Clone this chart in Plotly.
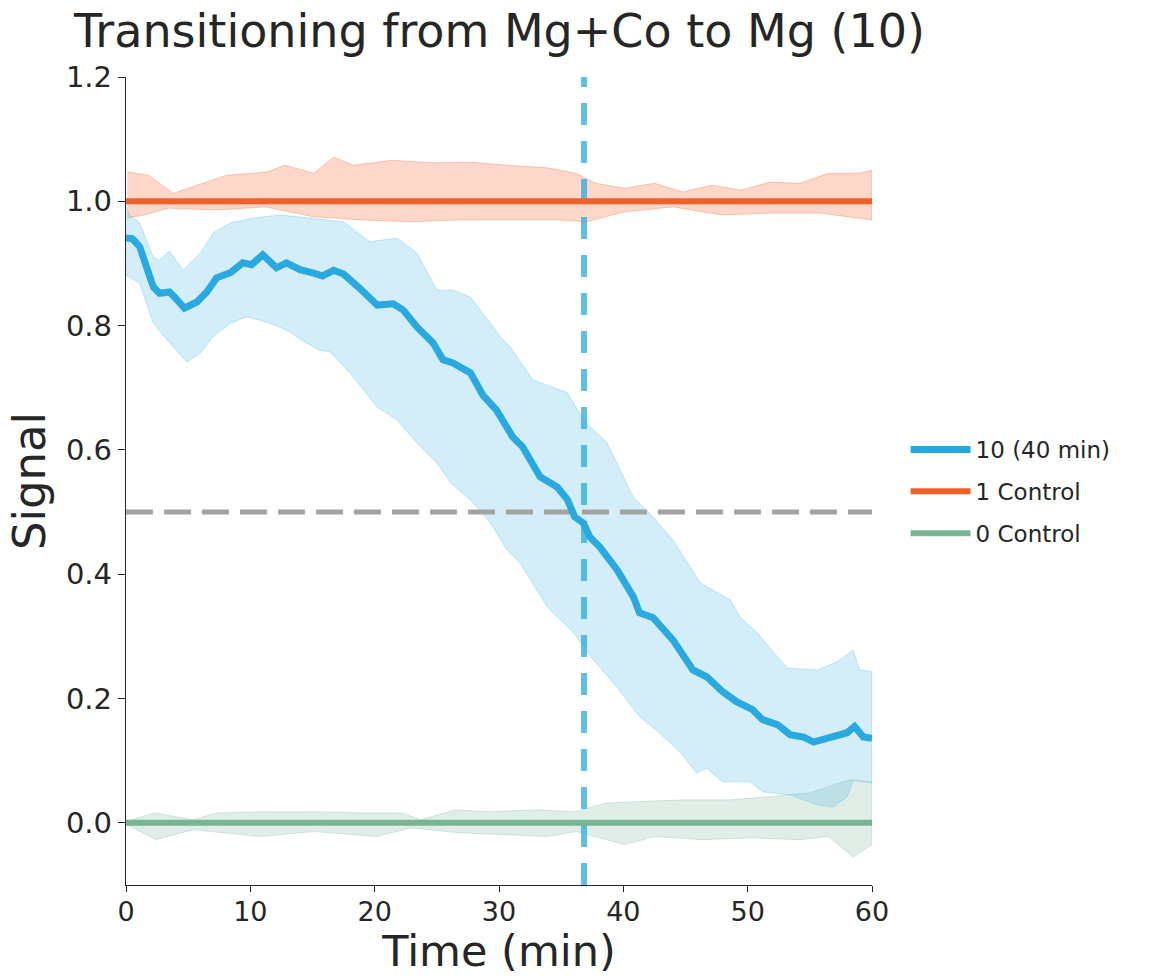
import plotly.graph_objects as go

# ---- data ----
mean_t = [0.0, 0.5, 1.1, 1.7, 2.2, 2.7, 3.5, 3.9, 4.7, 5.7, 6.5, 7.3, 8.4, 9.4, 10.1, 11.0, 12.1,
          12.9, 14.0, 15.0, 15.8, 16.7, 17.5, 18.8, 20.2, 21.5, 22.3, 23.4, 24.7, 25.5, 26.3, 27.7,
          28.7, 29.8, 30.7, 31.1, 31.9, 33.3, 34.7, 35.5, 36.1, 36.8, 37.3, 38.1, 39.5, 40.8, 41.3,
          42.4, 44.0, 45.6, 46.7, 48.0, 49.1, 50.4, 51.2, 52.4, 53.4, 54.5, 55.3, 56.6, 58.0, 58.6,
          59.3, 60.0]
mean_v = [0.941, 0.940, 0.927, 0.895, 0.862, 0.852, 0.854, 0.846, 0.828, 0.838, 0.854, 0.877, 0.885,
          0.901, 0.898, 0.914, 0.893, 0.901, 0.890, 0.885, 0.880, 0.889, 0.883, 0.860, 0.833, 0.835,
          0.825, 0.798, 0.772, 0.745, 0.740, 0.724, 0.688, 0.664, 0.632, 0.621, 0.605, 0.557, 0.540,
          0.520, 0.492, 0.482, 0.460, 0.444, 0.407, 0.364, 0.338, 0.330, 0.294, 0.246, 0.235, 0.211,
          0.195, 0.182, 0.166, 0.158, 0.142, 0.138, 0.130, 0.137, 0.145, 0.155, 0.138, 0.136]

up_t = [0.0, 0.3, 1.1, 2.2, 2.7, 3.5, 4.6, 6.0, 7.0, 8.4, 10.2, 12.4, 14.8, 17.5, 19.6, 21.8, 23.4,
        25.0, 26.3, 27.7, 29.3, 30.1, 30.9, 32.7, 35.5, 36.8, 38.7, 40.8, 42.4, 44.0, 46.2, 48.6,
        49.4, 50.8, 52.4, 53.2, 55.6, 57.2, 58.5, 59.0, 60.0]
up_v = [0.990, 0.978, 0.965, 0.910, 0.905, 0.920, 0.889, 0.917, 0.949, 0.965, 0.973, 0.978, 0.973,
        0.967, 0.935, 0.941, 0.917, 0.857, 0.857, 0.846, 0.804, 0.782, 0.766, 0.713, 0.692, 0.648,
        0.611, 0.524, 0.492, 0.455, 0.386, 0.359, 0.331, 0.305, 0.267, 0.249, 0.246, 0.259, 0.278,
        0.246, 0.243]

lo_t = [0.0, 1.1, 2.2, 3.3, 4.9, 6.0, 7.0, 8.4, 9.7, 11.3, 12.9, 14.5, 15.6, 16.4, 18.0, 20.2, 21.8,
        23.4, 25.0, 26.1, 27.7, 29.3, 30.6, 31.7, 33.9, 36.0, 37.6, 39.2, 41.3, 42.9, 44.6, 45.9,
        46.7, 48.0, 50.2, 51.2, 53.4, 55.6, 56.9, 58.0, 58.5, 60.0]
lo_v = [0.881, 0.868, 0.804, 0.777, 0.741, 0.756, 0.782, 0.804, 0.814, 0.806, 0.793, 0.772, 0.760,
        0.758, 0.724, 0.669, 0.648, 0.611, 0.579, 0.547, 0.520, 0.483, 0.440, 0.418, 0.347, 0.306,
        0.262, 0.225, 0.171, 0.145, 0.113, 0.080, 0.088, 0.066, 0.066, 0.050, 0.045, 0.029, 0.026,
        0.042, 0.069, 0.064]

c1_t = [0.0, 60.0]
c1_v = [1.0, 1.0]
c1_up_t = [0.1, 1.8, 3.8, 5.8, 8.1, 11.3, 12.8, 15.1, 16.7, 18.3, 21.4, 24.5, 27.7, 30.7, 33.9,
           36.2, 37.8, 40.1, 42.5, 44.8, 47.1, 49.5, 51.8, 54.2, 56.5, 58.9, 60.0]
c1_up_v = [1.047, 1.042, 1.013, 1.026, 1.042, 1.047, 1.058, 1.045, 1.071, 1.058, 1.066, 1.062,
           1.063, 1.058, 1.054, 1.045, 1.029, 1.021, 1.029, 1.015, 1.026, 1.018, 1.031, 1.029,
           1.045, 1.045, 1.050]
c1_lo_t = [0.1, 1.5, 3.4, 7.3, 11.2, 15.1, 19.0, 22.9, 26.8, 30.7, 34.7, 37.0, 40.1, 44.0, 47.9,
           51.8, 55.8, 60.0]
c1_lo_v = [0.973, 0.978, 0.989, 0.986, 0.991, 0.975, 0.970, 0.967, 0.970, 0.970, 0.970, 0.967,
           0.983, 0.991, 0.978, 0.981, 0.981, 0.970]

c0_t = [0.0, 60.0]
c0_v = [0.0, 0.0]
c0_up_t = [0.1, 2.3, 5.4, 7.3, 11.2, 15.1, 19.0, 22.2, 23.7, 26.5, 29.2, 33.1, 36.2, 38.6, 40.9,
           44.8, 48.7, 51.8, 55.0, 58.1, 60.0]
c0_up_v = [0.003, 0.016, 0.005, 0.016, 0.018, 0.018, 0.016, 0.016, 0.005, 0.021, 0.018, 0.021,
           0.018, 0.032, 0.034, 0.037, 0.037, 0.042, 0.048, 0.069, 0.066]
c0_lo_t = [0.1, 2.4, 5.4, 10.8, 15.1, 20.2, 22.9, 26.8, 33.9, 36.2, 40.1, 42.5, 46.4, 50.3, 54.2,
           56.5, 58.5, 60.0]
c0_lo_v = [-0.003, -0.027, -0.011, -0.022, -0.014, -0.022, -0.008, -0.016, -0.022, -0.014, -0.035,
           -0.022, -0.027, -0.024, -0.027, -0.022, -0.055, -0.035]

x_range = [0, 60]
y_range = [-0.1, 1.2]
half_level = 0.5
cross_time = 36.84

BLUE = "#29a9df"
ORANGE = "#f4602a"
GREEN = "#78b394"
FONT = "DejaVu Sans"
TXT = "#262626"

fig = go.Figure()


def band(t_up, v_up, t_lo, v_lo, rgb, a_fill, a_edge):
    fig.add_trace(go.Scatter(
        x=list(t_up) + list(reversed(t_lo)),
        y=list(v_up) + list(reversed(v_lo)),
        fill="toself", mode="lines",
        fillcolor=f"rgba({rgb},{a_fill})",
        line=dict(color=f"rgba({rgb},{a_edge})", width=1),
        showlegend=False, hoverinfo="skip"))


band(c1_up_t, c1_up_v, c1_lo_t, c1_lo_v, "244,96,42", 0.25, 0.3)
band(c0_up_t, c0_up_v, c0_lo_t, c0_lo_v, "120,179,148", 0.22, 0.28)
band(up_t, up_v, lo_t, lo_v, "41,169,223", 0.2, 0.25)

# reference lines
fig.add_trace(go.Scatter(x=x_range, y=[half_level, half_level], mode="lines",
                         line=dict(color="#a3a3a3", width=5, dash="27px,11px"),
                         showlegend=False, hoverinfo="skip"))
fig.add_trace(go.Scatter(x=[cross_time, cross_time], y=y_range, mode="lines",
                         line=dict(color="rgba(41,169,223,0.75)", width=6, dash="22px,16px"),
                         showlegend=False, hoverinfo="skip"))

# mean lines
fig.add_trace(go.Scatter(x=mean_t, y=mean_v, mode="lines", name="10 (40 min)",
                         line=dict(color=BLUE, width=7), legendgroup="a"))
fig.add_trace(go.Scatter(x=c1_t, y=c1_v, mode="lines", name="1 Control",
                         line=dict(color=ORANGE, width=6), legendgroup="b"))
fig.add_trace(go.Scatter(x=c0_t, y=c0_v, mode="lines", name="0 Control",
                         line=dict(color=GREEN, width=6), legendgroup="c"))

fig.update_layout(
    width=1169, height=976,
    margin=dict(l=126, r=297, t=77, b=91, autoexpand=False),
    paper_bgcolor="white", plot_bgcolor="white",
    font=dict(family=FONT, color=TXT),
    title=dict(text="Transitioning from Mg+Co to Mg (10)", x=499.5 / 1169, xanchor="center",
               y=1 - 31 / 976, yanchor="middle", yref="container",
               font=dict(size=46, color=TXT, family=FONT)),
    legend=dict(x=1.045, y=0.487, xanchor="left", yanchor="middle",
                font=dict(size=23, color=TXT, family=FONT),
                itemwidth=60, tracegroupgap=9, bgcolor="rgba(0,0,0,0)"),
    showlegend=True,
)
fig.update_xaxes(range=x_range, tickvals=[0, 10, 20, 30, 40, 50, 60], automargin=False,
                 showgrid=False, zeroline=False, showline=True, linecolor=TXT, linewidth=1.3,
                 ticks="outside", ticklen=6, tickwidth=1.3, tickcolor=TXT, ticklabelstandoff=-4,
                 tickfont=dict(size=27, color=TXT, family=FONT),
                 title=dict(text="Time (min)", font=dict(size=43, color=TXT, family=FONT), standoff=8))
fig.update_yaxes(range=y_range, tickvals=[0.0, 0.2, 0.4, 0.6, 0.8, 1.0, 1.2], tickformat=".1f",
                 automargin=False,
                 showgrid=False, zeroline=False, showline=True, linecolor=TXT, linewidth=1.3,
                 ticks="outside", ticklen=7, tickwidth=1.3, tickcolor=TXT,
                 tickfont=dict(size=29, color=TXT, family=FONT),
                 title=dict(text="Signal", font=dict(size=45, color=TXT, family=FONT), standoff=6))

fig.write_html("out.html")
